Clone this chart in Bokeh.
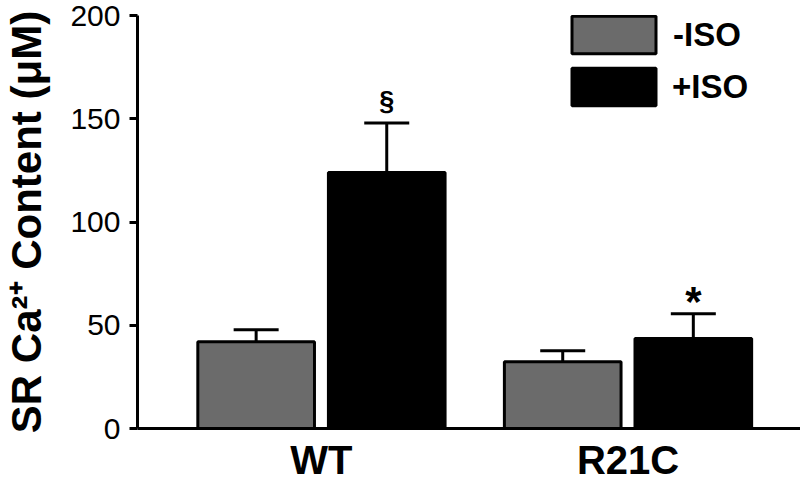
import math
from bokeh.plotting import figure
from bokeh.models import (Range1d, FixedTicker, ColumnDataSource, Whisker, TeeHead,
                          Legend, LegendItem)
from bokeh.core.properties import value
from bokeh.embed import file_html
from bokeh.resources import INLINE

# ---- data ----
groups = ["WT", "R21C"]
conditions = ["-ISO", "+ISO"]
minus_iso = [42.0, 32.3]
minus_err = [5.8, 5.3]
plus_iso = [124.0, 43.6]
plus_err = [24.0, 12.0]
plus_marks = ["§", "*"]
y_ticks = [0, 50, 100, 150, 200]
y_label = "SR Ca²⁺ Content (μM)"

FONT = "Liberation Sans"
GRAY = "#6b6b6b"
OFF = 0.213
BW = 0.3805

p = figure(width=800, height=484, output_backend="svg", toolbar_location=None,
           x_range=Range1d(-0.6, 1.5626), y_range=Range1d(0, 200),
           min_border_left=135, min_border_right=0, min_border_top=15, min_border_bottom=56)
p.outline_line_color = None
p.xgrid.visible = False
p.ygrid.visible = False
p.background_fill_color = "white"

pos = list(range(len(groups)))
xm = [i - OFF for i in pos]
xp = [i + OFF for i in pos]
up_m = [v + e for v, e in zip(minus_iso, minus_err)]
up_p = [v + e for v, e in zip(plus_iso, plus_err)]

src_m = ColumnDataSource(dict(x=xm, top=minus_iso, upper=up_m))
src_p = ColumnDataSource(dict(x=xp, top=plus_iso, upper=up_p))

for src in (src_m, src_p):
    w = Whisker(source=src, base="x", lower="top", upper="upper", dimension="height",
                line_width=3, line_color="black",
                upper_head=TeeHead(size=45, line_width=3, line_color="black"), lower_head=None)
    w.level = "overlay"
    p.add_layout(w)

r_m = p.vbar(x="x", top="top", width=BW, bottom=0, source=src_m,
             fill_color=GRAY, line_color="black", line_width=3)
r_p = p.vbar(x="x", top="top", width=BW, bottom=0, source=src_p,
             fill_color="black", line_color="black", line_width=3)

# significance marks
p.text(x=[xp[0]], y=[up_p[0]], text=[plus_marks[0]], text_font=value(FONT),
       text_font_style="bold", text_font_size="27px", text_align="center",
       text_baseline="alphabetic", y_offset=-22, text_color="black")
p.text(x=[xp[1]], y=[up_p[1]], text=[plus_marks[1]], text_font=value(FONT),
       text_font_style="bold", text_font_size="42px", text_align="center",
       text_baseline="alphabetic", y_offset=-12, text_color="black")

# y axis
p.yaxis.ticker = FixedTicker(ticks=y_ticks)
p.yaxis.axis_line_width = 3
p.yaxis.major_tick_line_width = 3
p.yaxis.major_tick_out = 8
p.yaxis.major_tick_in = 0
p.yaxis.minor_tick_line_color = None
p.yaxis.major_label_standoff = 9
p.yaxis.major_label_text_font = FONT
p.yaxis.major_label_text_font_size = "30px"
p.yaxis.major_label_text_color = "black"
p.yaxis.axis_line_color = "black"
p.yaxis.major_tick_line_color = "black"
p.yaxis.axis_label = y_label
p.yaxis.axis_label_text_font = FONT
p.yaxis.axis_label_text_font_style = "bold"
p.yaxis.axis_label_text_font_size = "42px"
p.yaxis.axis_label_text_color = "black"
p.yaxis.axis_label_standoff = 17

# x axis with group labels
p.xaxis.ticker = FixedTicker(ticks=pos)
p.xaxis.major_label_overrides = {i: g for i, g in zip(pos, groups)}
p.xaxis.axis_line_width = 3
p.xaxis.axis_line_color = "black"
p.xaxis.minor_tick_line_color = None
p.xaxis.major_tick_line_color = None
p.xaxis.major_tick_out = 0
p.xaxis.major_tick_in = 0
p.xaxis.major_label_standoff = 9
p.xaxis.major_label_text_font = FONT
p.xaxis.major_label_text_font_style = "bold"
p.xaxis.major_label_text_font_size = "40px"
p.xaxis.major_label_text_color = "black"

# legend: one per item so each label sits where the reference has it
for lab, rend, loc, stand in [(conditions[0], r_m, (424, 369.8), 7),
                              (conditions[1], r_p, (424, 317.8), 6)]:
    lg = Legend(items=[LegendItem(label=lab, renderers=[rend])], location=loc,
                glyph_width=105, glyph_height=47, label_height=47, label_standoff=stand,
                label_text_font=FONT, label_text_font_style="bold",
                label_text_font_size="33px", label_text_color="black",
                padding=0, margin=0, border_line_color=None, background_fill_alpha=0)
    p.add_layout(lg, "center")

open("out.html", "w").write(file_html(p, INLINE))
